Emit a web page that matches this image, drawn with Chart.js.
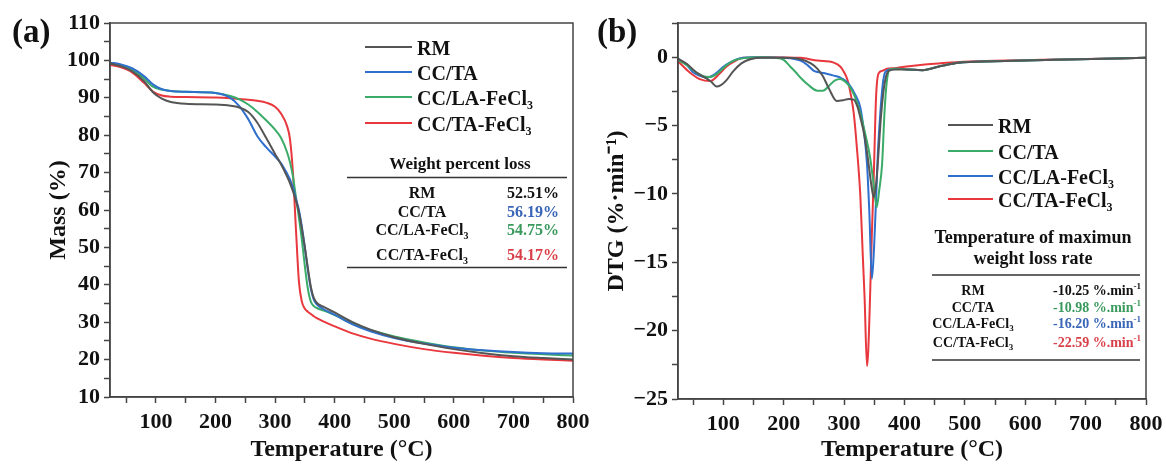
<!DOCTYPE html>
<html>
<head>
<meta charset="utf-8">
<script src="https://cdn.jsdelivr.net/npm/chart.js@4.4.1/dist/chart.umd.min.js"></script>
<style>
  body { margin: 0; background: #fff; }
  #wrap { position: relative; width: 1166px; height: 464px; }
  canvas { position: absolute; top: 0; }
  #tga { left: 0; }
  #dtg { left: 590px; }
</style>
</head>
<body>
<div id="wrap">
  <canvas id="tga" width="590" height="464"></canvas>
  <canvas id="dtg" width="576" height="464"></canvas>
</div>
<script>
// series names (_{..} = subscript, ^{..} = superscript)
const names = ["RM", "CC/TA", "CC/LA-FeCl_{3}", "CC/TA-FeCl_{3}"];

// (a) TG curves, shared temperature grid
const tgaTemp = [23, 40, 60, 80, 95, 110, 125, 150, 200, 225, 240, 255, 270, 285, 300, 310, 320, 325, 330, 335,
  340, 345, 350, 355, 360, 365, 370, 380, 400, 430, 460, 500, 550, 600, 650, 700, 750, 800];
const massRM = [99.2, 98.5, 97.1, 94.5, 91.5, 89.8, 88.9, 88.4, 88.2, 87.9, 87.4, 86.2, 83.4, 79.3, 75.0, 72.2, 69.0, 67.2, 65.0, 62.5,
  59.5, 55.0, 50.0, 44.5, 39.5, 36.5, 35.2, 34.2, 32.6, 30.0, 28.0, 26.0, 24.2, 22.8, 21.7, 20.9, 20.4, 20.0];
const massCCTA = [99.4, 99.0, 97.9, 95.8, 93.6, 92.3, 91.8, 91.6, 91.3, 90.0, 87.8, 84.3, 79.8, 76.8, 74.3, 72.5, 69.8, 68.2, 66.0, 63.0,
  60.0, 55.5, 50.0, 44.0, 39.0, 36.0, 34.8, 33.6, 32.0, 29.4, 27.6, 25.8, 24.3, 23.2, 22.5, 22.0, 21.7, 21.6];
const massCCLAFe = [99.2, 98.7, 97.5, 95.2, 93.0, 92.2, 91.8, 91.6, 91.3, 90.5, 89.6, 88.2, 86.3, 84.0, 81.5, 79.3, 75.5, 72.8, 69.0, 63.5,
  58.0, 52.0, 45.0, 39.0, 35.5, 34.3, 33.8, 33.2, 31.9, 29.6, 27.9, 26.2, 24.6, 23.3, 22.4, 21.8, 21.4, 21.1];
const massCCTAFe = [98.8, 98.2, 96.8, 94.0, 91.7, 90.6, 90.3, 90.2, 90.1, 89.9, 89.7, 89.5, 89.2, 88.7, 87.6, 85.8, 82.5, 79.0, 70.0, 55.0,
  41.0, 35.5, 33.6, 32.8, 32.2, 31.6, 31.1, 30.3, 28.9, 27.0, 25.6, 24.2, 22.8, 21.8, 21.0, 20.4, 20.0, 19.7];
const lossPct = ["52.51%", "56.19%", "54.75%", "54.17%"];

// (b) DTG curves
const rmT = [25, 40, 55, 70, 80, 89, 96, 105, 117, 130, 145, 165, 200, 228, 245, 256, 265, 275, 288, 298, 308, 316, 322, 328, 334,
  340, 345, 349, 353, 357, 361, 365, 369, 374, 385, 400, 430, 460, 490, 550, 650, 800];
const rmD = [-0.1, -0.5, -1.1, -1.5, -1.8, -2.15, -2.05, -1.7, -1.0, -0.45, -0.15, -0.05, -0.05, -0.15, -0.45, -0.85, -1.4, -2.3, -3.2, -3.15, -3.05, -3.1, -3.6, -4.6, -5.8,
  -7.6, -9.3, -10.25, -9.3, -7.0, -4.4, -2.6, -1.5, -1.0, -0.9, -0.9, -0.95, -0.65, -0.4, -0.3, -0.18, -0.05];
const ctaT = [25, 40, 55, 67, 78, 90, 105, 120, 140, 160, 185, 200, 211, 220, 228, 240, 256, 265, 275, 285, 294, 302, 310, 318, 327,
  335, 343, 349, 354, 358, 363, 367, 371, 376, 385, 400, 430, 460, 490, 550, 650, 800];
const ctaD = [-0.2, -0.6, -1.1, -1.4, -1.45, -1.2, -0.6, -0.2, -0.05, 0, -0.05, -0.2, -0.7, -1.1, -1.5, -2.0, -2.45, -2.45, -2.1, -1.7, -1.6, -1.8, -2.2, -2.9, -4.1,
  -5.6, -7.3, -9.3, -10.98, -9.8, -7.8, -4.0, -1.7, -0.9, -0.85, -0.88, -0.95, -0.65, -0.4, -0.3, -0.18, -0.05];
const claT = [25, 40, 50, 60, 72, 82, 90, 100, 117, 130, 150, 200, 228, 240, 250, 265, 283, 294, 302, 310, 318, 327, 333, 338, 342,
  346, 349, 352, 356, 360, 364, 368, 375, 385, 400, 430, 460, 490, 550, 650, 800];
const claD = [-0.1, -0.6, -1.1, -1.35, -1.5, -1.35, -1.1, -0.7, -0.25, -0.05, 0, -0.05, -0.25, -0.6, -1.0, -1.15, -1.35, -1.5, -1.7, -2.1, -2.7, -3.7, -5.5, -7.8, -11.5,
  -16.2, -14.5, -11.5, -7.0, -4.1, -2.0, -1.1, -0.9, -0.85, -0.88, -0.95, -0.65, -0.4, -0.3, -0.18, -0.05];
const ctfT = [25, 44, 61, 78, 94, 105, 117, 133, 172, 228, 256, 283, 294, 300, 306, 311, 316, 321, 327, 331, 334, 338, 340, 343, 346,
  349, 353, 357, 363, 371, 385, 400, 430, 460, 490, 550, 650, 800];
const ctfD = [-0.3, -1.1, -1.6, -1.75, -1.2, -0.7, -0.35, -0.05, 0, -0.05, -0.25, -0.4, -0.7, -1.1, -1.7, -2.7, -4.1, -6.5, -10.2, -14.5, -17.6, -22.59, -21.5, -17.6, -13.0,
  -9.0, -2.9, -1.2, -1.0, -0.85, -0.8, -0.7, -0.55, -0.45, -0.35, -0.27, -0.17, -0.05];
const maxRate = ["-10.25 %.min^{-1}", "-10.98 %.min^{-1}", "-16.20 %.min^{-1}", "-22.59 %.min^{-1}"];

const GRAY = "#555555", BLUE = "#2f6fcd", GREEN = "#3aab68", RED = "#e8383e";
const FONT = '"Liberation Serif", "Times New Roman", serif';

function pts(xs, ys) {
  return xs.map((x, i) => ({ x: x, y: ys[i] }));
}

function rich(ctx, str, x, y, size, color, align) {
  const parts = [];
  const re = /([_^])\{([^}]*)\}/g;
  let last = 0, m;
  while ((m = re.exec(str))) {
    if (m.index > last) parts.push({ t: str.slice(last, m.index), k: "" });
    parts.push({ t: m[2], k: m[1] });
    last = re.lastIndex;
  }
  if (last < str.length) parts.push({ t: str.slice(last), k: "" });
  const small = Math.round(size * 0.62);
  let w = 0;
  parts.forEach(p => {
    ctx.font = `bold ${p.k ? small : size}px ${FONT}`;
    p.w = ctx.measureText(p.t).width;
    w += p.w;
  });
  let cx = align === "center" ? x - w / 2 : align === "right" ? x - w : x;
  ctx.fillStyle = color;
  ctx.textBaseline = "middle";
  ctx.textAlign = "left";
  parts.forEach(p => {
    ctx.font = `bold ${p.k ? small : size}px ${FONT}`;
    const dy = p.k === "_" ? size * 0.32 : p.k === "^" ? -size * 0.32 : 0;
    ctx.fillText(p.t, cx, y + dy);
    cx += p.w;
  });
}

// frame, panel letter, legend and the small table
function decor(o) {
  return {
    id: "decor",
    afterDraw(chart) {
      const ctx = chart.ctx, a = chart.chartArea;
      ctx.save();
      ctx.strokeStyle = "#444";
      ctx.lineWidth = 1.5;
      ctx.strokeRect(a.left, a.top, a.right - a.left, a.bottom - a.top);

      ctx.font = `bold 33px ${FONT}`;
      ctx.fillStyle = "#111";
      ctx.textBaseline = "middle";
      ctx.textAlign = "left";
      ctx.fillText(o.letter, o.letterX, 33);

      chart.data.datasets.forEach((ds, i) => {
        const ly = o.legY[i];
        ctx.strokeStyle = ds.borderColor;
        ctx.lineWidth = 2;
        ctx.beginPath();
        ctx.moveTo(o.legX1, ly);
        ctx.lineTo(o.legX2, ly);
        ctx.stroke();
        rich(ctx, ds.label, o.legX2 + 5, ly + 3, o.legSize, "#111", "left");
      });

      o.title.forEach((t, i) => rich(ctx, t, o.titleX, o.titleY[i], o.titleSize, "#111", "center"));
      ctx.strokeStyle = "#333";
      ctx.lineWidth = 1.5;
      o.rules.forEach(ry => {
        ctx.beginPath();
        ctx.moveTo(o.ruleX1, ry);
        ctx.lineTo(o.ruleX2, ry);
        ctx.stroke();
      });
      chart.data.datasets.forEach((ds, i) => {
        rich(ctx, ds.label, o.nameX, o.rowY[i], o.rowSize, "#111", "center");
        rich(ctx, o.values[i], o.valX, o.rowY[i], o.rowSize, o.valColors[i], "center");
      });
      ctx.restore();
    }
  };
}

function axisX(titleText, hgt) {
  return {
    type: "linear",
    ticks: {
      stepSize: 50, includeBounds: false, autoSkip: false, maxRotation: 0, padding: 6, color: "#111",
      font: { family: FONT, size: 22, weight: "bold" },
      callback: v => (v % 100 === 0 ? String(v) : "")
    },
    grid: { drawOnChartArea: false, tickLength: 6, tickColor: "#444", tickWidth: 1.5 },
    border: { color: "#444", width: 1.5 },
    title: { display: true, text: titleText, color: "#111", padding: { top: 0, bottom: 0 },
      font: { family: FONT, size: 24, weight: "bold" } },
    afterFit: s => { s.height = hgt; s.paddingLeft = 0; s.paddingRight = 0; }
  };
}

function axisY(titleText, wid, step, labelEvery, padTop) {
  return {
    type: "linear",
    ticks: {
      stepSize: step, autoSkip: false, padding: 4, color: "#111",
      font: { family: FONT, size: 22, weight: "bold" },
      callback: v => {
        if (Math.abs(v % labelEvery) > 1e-6) return "";
        return v < 0 ? "\u2212" + Math.abs(v) : String(v);
      }
    },
    grid: { drawOnChartArea: false, tickLength: 6, tickColor: "#444", tickWidth: 1.5 },
    border: { color: "#444", width: 1.5 },
    title: { display: true, text: titleText, color: "#111", padding: { top: padTop, bottom: 0 },
      font: { family: FONT, size: 24, weight: "bold" } },
    afterFit: s => { s.width = wid; s.paddingTop = 0; s.paddingBottom = 0; }
  };
}

function lineSet(label, data, color) {
  return { label: label, data: data, borderColor: color, backgroundColor: color, borderWidth: 2,
    pointRadius: 0, cubicInterpolationMode: "monotone", fill: false };
}

const tgaX = axisX("Temperature (\u00b0C)", 67);
tgaX.min = 23; tgaX.max = 800;
const tgaY = axisY("Mass (%)", 110, 5, 10, 44);
tgaY.min = 10; tgaY.max = 110;

new Chart(document.getElementById("tga"), {
  type: "line",
  data: {
    datasets: [
      lineSet(names[0], pts(tgaTemp, massRM), GRAY),
      lineSet(names[1], pts(tgaTemp, massCCTA), BLUE),
      lineSet(names[2], pts(tgaTemp, massCCLAFe), GREEN),
      lineSet(names[3], pts(tgaTemp, massCCTAFe), RED)
    ]
  },
  options: {
    responsive: false, animation: false,
    layout: { padding: { top: 23, right: 17, left: 0, bottom: 0 } },
    plugins: { legend: { display: false }, tooltip: { enabled: false } },
    scales: { x: tgaX, y: tgaY }
  },
  plugins: [decor({
    letter: "(a)", letterX: 12,
    legX1: 365, legX2: 412, legY: [47, 72, 97, 123], legSize: 20,
    title: ["Weight percent loss"], titleX: 460, titleY: [165], titleSize: 17,
    rules: [177.5, 267.5], ruleX1: 347, ruleX2: 567,
    nameX: 422, valX: 533, rowY: [194, 212.5, 231, 256], rowSize: 16,
    values: lossPct, valColors: ["#111", "#3a66b8", "#3a9a5e", "#d9414a"]
  })]
});

const dtgX = axisX("Temperature (\u00b0C)", 65);
dtgX.min = 25; dtgX.max = 800;
const dtgY = axisY("DTG (%\u00b7min\u207b\u00b9)", 88, 2.5, 5, 12.6);
dtgY.min = -25; dtgY.max = 2.5;

new Chart(document.getElementById("dtg"), {
  type: "line",
  data: {
    datasets: [
      lineSet(names[0], pts(rmT, rmD), GRAY),
      lineSet(names[1], pts(ctaT, ctaD), GREEN),
      lineSet(names[2], pts(claT, claD), BLUE),
      lineSet(names[3], pts(ctfT, ctfD), RED)
    ]
  },
  options: {
    responsive: false, animation: false,
    layout: { padding: { top: 23, right: 20, left: 0, bottom: 0 } },
    plugins: { legend: { display: false }, tooltip: { enabled: false } },
    scales: { x: dtgX, y: dtgY }
  },
  plugins: [decor({
    letter: "(b)", letterX: 7,
    legX1: 358, legX2: 403, legY: [125, 151, 176, 199], legSize: 20,
    title: ["Temperature of maximun", "weight loss rate"], titleX: 443, titleY: [238, 259], titleSize: 18,
    rules: [275, 360], ruleX1: 342, ruleX2: 550,
    nameX: 383, valX: 507, rowY: [291, 308, 324, 343], rowSize: 14,
    values: maxRate, valColors: ["#111", "#3a9a5e", "#3a66b8", "#d9414a"]
  })]
});
</script>
</body>
</html>
